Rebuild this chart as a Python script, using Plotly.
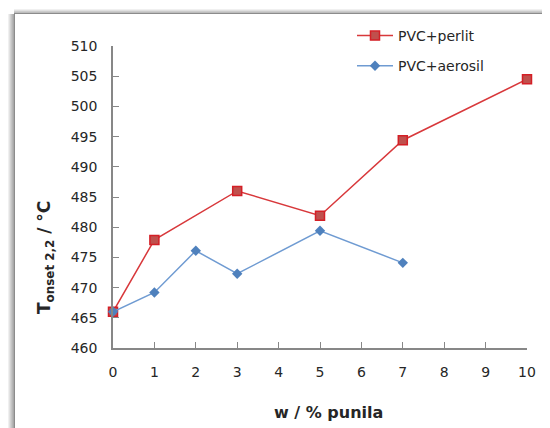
import plotly.graph_objects as go

x_perlit = [0, 1, 3, 5, 7, 10]
y_perlit = [466.0, 477.9, 486.0, 481.9, 494.4, 504.5]
x_aerosil = [0, 1, 2, 3, 5, 7]
y_aerosil = [466.0, 469.2, 476.1, 472.3, 479.4, 474.1]
x_ticks = [0, 1, 2, 3, 4, 5, 6, 7, 8, 9, 10]
y_ticks = [460, 465, 470, 475, 480, 485, 490, 495, 500, 505, 510]

OFF = 8  # page body margin
W, H = 550 - OFF, 428 - OFF
L, R, T, B = 113 - OFF, 527 - OFF, 46 - OFF, 348 - OFF

def px(p):
    return (p - OFF - L) / (R - L)

def py(p):
    return (B - (p - OFF)) / (B - T)

FONT = "DejaVu Sans, Open Sans, sans-serif"
TXT = "#262626"

fig = go.Figure()
fig.add_trace(go.Scatter(
    x=x_perlit, y=y_perlit, name="PVC+perlit", mode="lines+markers",
    legendgroup="a",
    line=dict(color="#D8383B", width=1.5),
    marker=dict(symbol="square", size=9, color="#C0504D",
                line=dict(color="#D41F26", width=1.5)),
    cliponaxis=False))
fig.add_trace(go.Scatter(
    x=x_aerosil, y=y_aerosil, name="PVC+aerosil", mode="lines+markers",
    legendgroup="b",
    line=dict(color="#6F9BD2", width=1.5),
    marker=dict(symbol="diamond", size=8, color="#4F81BD",
                line=dict(color="#4F81BD", width=0)),
    cliponaxis=False))

shapes = []
left_cols = ["#f0f0f0", "#e2e2e2", "#d2d2d2", "#c4c4c4", "#b6b6b6", "#a8a8a8"]
for i, c in enumerate(left_cols):
    shapes.append(dict(type="rect", xref="paper", yref="paper",
                       x0=px(8 + i), x1=px(9 + i), y0=py(428), y1=py(14),
                       fillcolor=c, line=dict(width=0), layer="below"))
top_cols = ["#f0f0f0", "#e0e0e0", "#cccccc", "#bdbdbd"]
for i, c in enumerate(top_cols):
    shapes.append(dict(type="rect", xref="paper", yref="paper",
                       x0=px(14), x1=px(550), y0=py(9 + i + 1), y1=py(9 + i),
                       fillcolor=c, line=dict(width=0), layer="below"))
shapes.append(dict(type="line", xref="paper", yref="paper",
                   x0=px(14), x1=px(550), y0=py(13.5), y1=py(13.5),
                   line=dict(color="#8c8c8c", width=1)))
shapes.append(dict(type="line", xref="paper", yref="paper",
                   x0=px(14.5), x1=px(14.5), y0=py(13.5), y1=py(428),
                   line=dict(color="#8c8c8c", width=1)))

annotations = [
    dict(text="<b>w / % punila</b>", xref="paper", yref="paper",
         x=px(328), y=py(412), xanchor="center", yanchor="middle", showarrow=False,
         font=dict(family=FONT, size=16, color=TXT)),
    dict(text="<b>T<sub>onset 2,2</sub> / °C</b>", xref="paper", yref="paper",
         x=px(45), y=py(258), xanchor="center", yanchor="middle", showarrow=False,
         textangle=-90, font=dict(family=FONT, size=17, color=TXT)),
]

fig.update_layout(
    width=W, height=H,
    margin=dict(l=L, r=W - R, t=T, b=H - B, autoexpand=False),
    paper_bgcolor="white", plot_bgcolor="white",
    font=dict(family=FONT, size=14, color=TXT),
    shapes=shapes,
    annotations=annotations,
    showlegend=True,
    legend=dict(x=px(352), y=py(20), xanchor="left", yanchor="top",
                bgcolor="rgba(0,0,0,0)", font=dict(family=FONT, size=14, color=TXT),
                traceorder="grouped", tracegroupgap=9, itemwidth=36),
    xaxis=dict(range=[0, 10], tickvals=x_ticks, ticktext=[str(v) for v in x_ticks],
               showgrid=False, zeroline=False, showline=True, linecolor="#878787",
               linewidth=1.5, ticks="inside", ticklen=6, tickcolor="#878787",
               tickfont=dict(family=FONT, size=14, color=TXT), ticklabelstandoff=10),
    yaxis=dict(range=[460, 510], tickvals=y_ticks,
               showgrid=False, zeroline=False, showline=True, linecolor="#878787",
               linewidth=1.5, ticks="inside", ticklen=6, tickcolor="#878787",
               tickfont=dict(family=FONT, size=14, color=TXT), ticklabelstandoff=11),
)

fig.write_html("out.html")
